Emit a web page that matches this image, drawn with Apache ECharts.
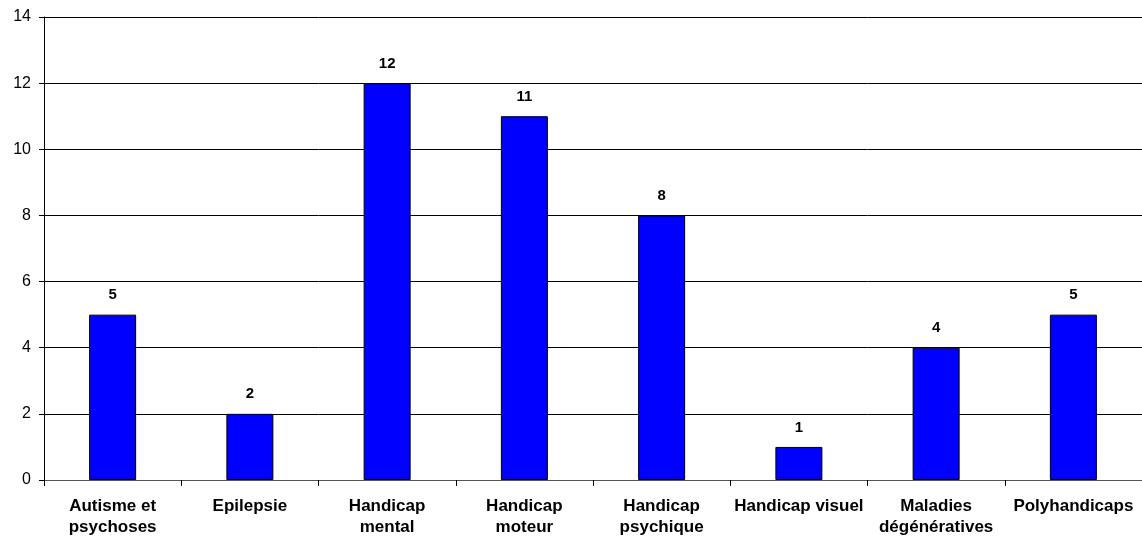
<!DOCTYPE html>
<html><head><meta charset="utf-8">
<script src="https://cdn.jsdelivr.net/npm/echarts@6/dist/echarts.min.js"></script>
<style>html,body{margin:0;padding:0;background:#fff}#c{width:1142px;height:539px}</style>
</head><body><div id="c"></div>
<script>
const categories = ["Autisme et\npsychoses","Epilepsie","Handicap\nmental","Handicap\nmoteur","Handicap\npsychique","Handicap visuel","Maladies\ndégénératives","Polyhandicaps"];
const values = [5,2,12,11,8,1,4,5];
const chart = echarts.init(document.getElementById('c'));
chart.setOption({
  animation:false,
  grid:{left:44,right:0,top:17,bottom:59},
  xAxis:{type:'category',data:categories,
    axisLine:{lineStyle:{color:'#555',width:1}},
    axisTick:{show:true,length:6,lineStyle:{color:'#000'}},
    axisLabel:{color:'#000',fontFamily:'Liberation Sans, Arial',fontWeight:'bold',fontSize:17,lineHeight:21,margin:16,interval:0}},
  yAxis:{type:'value',min:0,max:14,interval:2,
    axisLine:{show:true,lineStyle:{color:'#000'}},
    axisTick:{show:true,length:5,lineStyle:{color:'#000'}},
    splitLine:{lineStyle:{color:'#000',width:1}},
    axisLabel:{color:'#000',fontFamily:'Liberation Sans, Arial',fontSize:16,margin:13}},
  series:[{type:'bar',data:values,barWidth:47,
    itemStyle:{color:'#0000FF',borderColor:'#000',borderWidth:1},
    label:{show:true,position:'top',distance:12,color:'#000',fontFamily:'Liberation Sans, Arial',fontWeight:'bold',fontSize:15}}]
});
</script></body></html>
